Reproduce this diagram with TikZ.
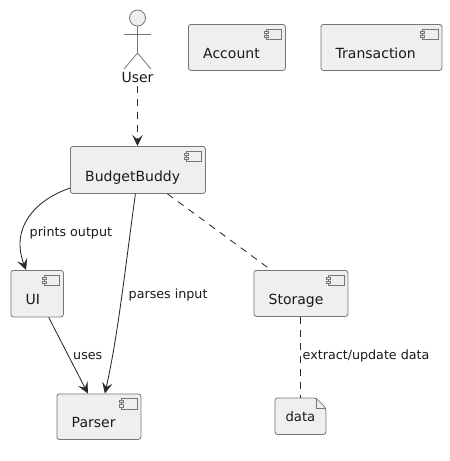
\documentclass[tikz,border=0pt]{standalone}
\usepackage{fontspec}
\setmainfont{DejaVu Sans}
\usetikzlibrary{arrows.meta,calc}
\definecolor{boxfill}{HTML}{EFEFEF}
\definecolor{boxline}{HTML}{767676}
\definecolor{conn}{HTML}{2A2A2A}
\tikzset{
  boxshape/.style={draw=boxline,fill=boxfill,line width=0.8pt,rounded corners=2.5pt,inner sep=0pt,anchor=north west},
  iconpart/.style={draw=boxline,fill=boxfill,line width=0.7pt},
  nametext/.style={font=\fontsize{14}{16}\selectfont,inner sep=0pt,anchor=base west,text=black!90},
  edgetext/.style={font=\fontsize{12.7}{15}\selectfont,inner sep=0pt,anchor=base west,text=black!90},
  tip/.style={-{Stealth[length=11pt,width=10.5pt,inset=4.5pt]}},
  solidedge/.style={draw=conn,line width=0.85pt,tip},
  dashedge/.style={draw=conn,line width=0.85pt,dash pattern=on 7pt off 6pt},
  actorline/.style={draw=boxline,line width=0.8pt}
}
\newcommand{\compbox}[6]{%
  \node[boxshape,minimum width=#4pt,minimum height=#5pt] (#1) at (#2,#3) {};
  \node[nametext] (#1txt) at ($(#1.south west)+(15,-12.5)$) {#6};
  \draw[iconpart] ($(#1.north east)+(-19.7,5)$) rectangle ($(#1.north east)+(-4.3,15.7)$);
  \draw[iconpart] ($(#1.north east)+(-21.7,7)$) rectangle ($(#1.north east)+(-17.7,9.3)$);
  \draw[iconpart] ($(#1.north east)+(-21.7,11.3)$) rectangle ($(#1.north east)+(-17.7,13.7)$);
}
\begin{document}
\begin{tikzpicture}[x=1pt,y=-1pt]
\useasboundingbox (0,0) rectangle (450,461);
% actor
\node[circle,draw=boxline,fill=boxfill,line width=0.8pt,minimum size=16pt,inner sep=0pt] (head) at (137.5,18) {};
\coordinate (hip) at (137.5,53);
\coordinate (armL) at (124,34);
\coordinate (armR) at (151,34);
\coordinate (footL) at (124,69);
\coordinate (footR) at (151,69);
\draw[actorline] (head.south) -- (hip);
\draw[actorline] (armL) -- (armR);
\draw[actorline] (footL) -- (hip) -- (footR);
\node[nametext,anchor=base] (user) at (137.5,82) {User};
% components
\compbox{acc}{188}{24}{97}{46}{Account}
\compbox{trans}{320.5}{24}{121}{46}{Transaction}
\compbox{bb}{70}{146}{135}{47}{BudgetBuddy}
\compbox{ui}{10.5}{270}{52.5}{46.5}{UI}
\compbox{par}{56.5}{393.5}{84}{45.5}{Parser}
\compbox{sto}{253.5}{270}{94}{46}{Storage}
% data file
\node[minimum width=50.5pt,minimum height=36pt,inner sep=0pt,anchor=north west] (data) at (275,398) {};
\draw[boxshape] (data.south west) -- (data.north west) -- ($(data.north east)+(-10,0)$) -- ($(data.north east)+(0,10)$) -- (data.south east) -- cycle;
\draw[draw=boxline,line width=0.6pt] ($(data.north east)+(-10,0)$) -- ($(data.north east)+(-10,10)$) -- ($(data.north east)+(0,10)$);
\node[edgetext,anchor=base,font=\fontsize{13.2}{15}\selectfont] (datatxt) at ($(data.south)+(0,-13)$) {data};
% connectors
\draw[dashedge,tip] ($(user.base)+(0,4)$) -- (bb.north -| user);
\draw[solidedge] (bb.195) .. controls (35,200) and (10,228) .. (ui.115);
\draw[solidedge] ($(bb.south)+(-2.5,0)$) .. controls (125,270) and (118,335) .. ($(par.north)+(6,0)$);
\draw[solidedge] ($(ui.south)+(11.5,0)$) -- ($(par.north)+(-11,0)$);
\draw[dashedge] ($(bb.south)+(29.5,0)$) -- ($(sto.north)+(-29.8,0)$);
\draw[dashedge] (sto.south) -- (sto.south |- data.north);
% labels
\node[edgetext] (l1) at (29.5,236) {prints output};
\node[edgetext] (l2) at (128.5,298.5) {parses input};
\node[edgetext] (l3) at (73,359) {uses};
\node[edgetext] (l4) at (302.5,359) {extract/update data};
\end{tikzpicture}
\end{document}
